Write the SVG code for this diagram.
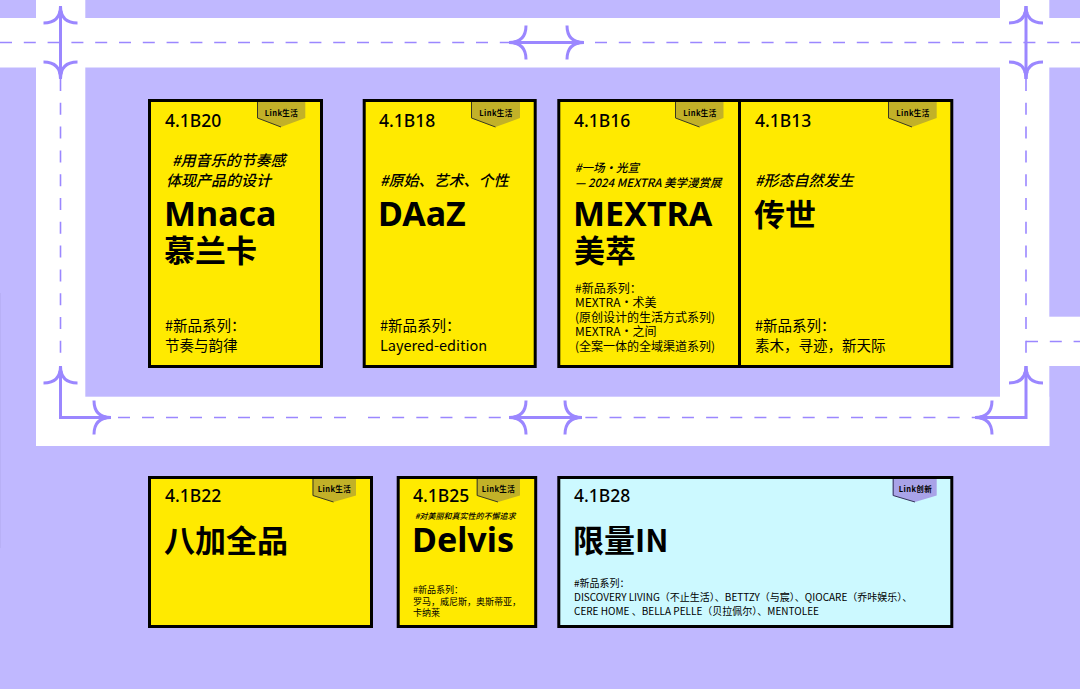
<svg xmlns="http://www.w3.org/2000/svg" width="1080" height="689" viewBox="0 0 1080 689">
<style>
text{font-family:"Noto Sans CJK SC","Noto Sans",sans-serif;fill:#000}
.band{fill:#fff}
.card{fill:#FFEA00;stroke:#000;stroke-width:3}
.cyan{fill:#CCF9FF}
.badge{fill:#C2B128;stroke:none}
.badge2{fill:#A9A3E8;stroke:none}
.edge{fill:none;stroke:#3a3a20;stroke-width:1}
.code{font-size:17.5px;font-weight:500;font-family:"Noto Sans","Noto Sans CJK SC",sans-serif}
.big{font-size:31px;font-weight:700}
.bigl{font-size:34px;font-weight:700;font-family:"Noto Sans","Noto Sans CJK SC",sans-serif}
.tag{font-size:15px;font-weight:500;font-style:italic}
.b{font-size:14.5px}
.s{font-size:12px}
.l{font-size:7.5px;font-weight:700;text-anchor:middle;letter-spacing:.4px}
.dash{fill:none;stroke:#9B87FF;stroke-width:1.6;stroke-dasharray:12 11.8}
.arr{fill:none;stroke:#9B87FF;stroke-width:3;marker-start:url(#h);marker-end:url(#h)}
</style>
<defs>
<marker id="h" markerUnits="userSpaceOnUse" markerWidth="40" markerHeight="40" refX="20" refY="20" viewBox="0 0 40 40" orient="auto-start-reverse" overflow="visible">
<path d="M20 20Q3 20 3 3M20 20Q3 20 3 37" fill="none" stroke="#9B87FF" stroke-width="3"/>
<path d="M20 20L13 17.5V22.5Z" fill="#9B87FF"/>
</marker>
</defs>
<rect width="1080" height="689" fill="#C0B8FF"/>
<rect x="0" y="293" width="1" height="255" fill="#B8B0F6"/>
<g id="bands">
<rect class="band" x="0" y="18" width="1080" height="49.5"/>
<rect class="band" x="36" y="0" width="49.3" height="446"/>
<rect class="band" x="1000" y="0" width="49.3" height="446"/>
<rect class="band" x="36" y="396.7" width="1013.3" height="49.3"/>
<rect class="band" x="1049" y="316.7" width="31" height="49.3"/>
</g>
<g id="connectors">
<path class="dash" d="M0 42.5H1080"/>
<path class="dash" d="M60.5 79V356"/>
<path class="dash" d="M1026 79V356"/>
<path class="dash" d="M1026 341.5H1080"/>
<path class="dash" style="stroke-dasharray:12 12" d="M118 417.5H347"/>
<path class="dash" style="stroke-dasharray:12 12.15" d="M368 417.5H975"/>
<path class="arr" d="M60.5 6V79"/>
<path class="arr" d="M1026 6V79"/>
<path class="arr" d="M509 42.5H584"/>
<path class="arr" d="M509 417.5H582"/>
<path class="arr" d="M60.5 366V417.5H111"/>
<path class="arr" d="M1026 366V417.5H975"/>
</g>
<g id="card-4-1B20">
<rect class="card" x="149.5" y="100.5" width="172" height="266"/>
<path class="badge" d="M257 102H305.300V118L281 127L257 118Z"/><path class="edge" d="M257.500 102V118L281 127"/>
<text class="l" x="281.500" y="116">Link生活</text>
<text class="code" x="165" y="127">4.1B20</text>
<text class="tag" x="172" y="166">#用音乐的节奏感</text>
<text class="tag" x="166" y="186">体现产品的设计</text>
<text class="bigl" x="164" y="226">Mnaca</text>
<text class="big" x="164" y="262">慕兰卡</text>
<text class="b" x="165" y="331">#新品系列：</text>
<text class="b" x="165" y="351">节奏与韵律</text>
</g>
<g id="card-4-1B18">
<rect class="card" x="364.200" y="100.500" width="171" height="266"/>
<path class="badge" d="M471 102H520V118L495.500 127L471 118Z"/><path class="edge" d="M471.500 102V118L495.500 127"/>
<text class="l" x="496" y="116">Link生活</text>
<text class="code" x="379" y="127">4.1B18</text>
<text class="tag" x="380" y="186">#原始、艺术、个性</text>
<text class="bigl" x="378" y="226">DAaZ</text>
<text class="b" x="380" y="331">#新品系列：</text>
<text class="b" x="380" y="351">Layered-edition</text>
</g>
<g id="card-4-1B16">
<rect class="card" x="558.800" y="100.500" width="180.700" height="266"/>
<path class="badge" d="M675 102H723.500V118L699.500 127L675 118Z"/><path class="edge" d="M675.500 102V118L699.500 127"/>
<text class="l" x="700" y="116">Link生活</text>
<text class="code" x="574" y="127">4.1B16</text>
<text x="575" y="172" style="font-size:11.500px;font-weight:500;font-style:italic">#一场·光宣</text>
<text x="575" y="187" style="font-size:11.500px;font-weight:500;font-style:italic">— 2024 MEXTRA 美学漫赏展</text>
<text class="bigl" x="573" y="226">MEXTRA</text>
<text class="big" x="574" y="262">美萃</text>
<text class="s" x="575" y="293">#新品系列：</text>
<text class="s" x="575" y="307">MEXTRA·术美</text>
<text class="s" x="575" y="321.500">(原创设计的生活方式系列)</text>
<text class="s" x="575" y="336">MEXTRA·之间</text>
<text class="s" x="575" y="351">(全案一体的全域渠道系列)</text>
</g>
<g id="card-4-1B13">
<rect class="card" x="739.500" y="100.500" width="212.300" height="266"/>
<path class="badge" d="M888 102H936.700V118L912 127L888 118Z"/><path class="edge" d="M888.500 102V118L912 127"/>
<text class="l" x="913" y="116">Link生活</text>
<text class="code" x="755" y="127">4.1B13</text>
<text class="tag" x="755" y="186">#形态自然发生</text>
<text class="big" x="754" y="226">传世</text>
<text class="b" x="755" y="331">#新品系列：</text>
<text class="b" x="755" y="351">素木，寻迹，新天际</text>
</g>
<g id="card-4-1B22">
<rect class="card" x="149.500" y="477.500" width="222" height="149"/>
<path class="badge" d="M312.500 479H356V495.500L333.500 502L312.500 495.500Z"/><path class="edge" d="M313 479V495.500L333.500 502"/>
<text class="l" x="334.500" y="492">Link生活</text>
<text class="code" x="165" y="502">4.1B22</text>
<text class="big" x="164" y="552">八加全品</text>
</g>
<g id="card-4-1B25">
<rect class="card" x="398.200" y="477.500" width="137.500" height="149"/>
<path class="badge" d="M476.700 479H520V495.500L498 502L476.700 495.500Z"/><path class="edge" d="M477.200 479V495.500L498 502"/>
<text class="l" x="498.500" y="492">Link生活</text>
<text class="code" x="413" y="502">4.1B25</text>
<text x="415" y="519" style="font-size:8px;font-weight:500;font-style:italic">#对美丽和真实性的不懈追求</text>
<text class="bigl" x="412" y="552">Delvis</text>
<text x="413" y="593" style="font-size:9px">#新品系列：</text>
<text x="413" y="605" style="font-size:9px">罗马，威尼斯，奥斯蒂亚，</text>
<text x="413" y="616" style="font-size:9px">卡纳莱</text>
</g>
<g id="card-4-1B28">
<rect class="card cyan" x="558.800" y="477.500" width="393" height="149"/>
<path class="badge2" d="M892.700 479H936.700V495.500L915 502L892.700 495.500Z"/><path class="edge" style="stroke:#33335a" d="M893.200 479V495.500L915 502"/>
<text class="l" x="915.500" y="492">Link创新</text>
<text class="code" x="574" y="502">4.1B28</text>
<text class="big" x="573" y="552">限量IN</text>
<text x="574" y="587" style="font-size:10px">#新品系列：</text>
<text x="574" y="601" style="font-size:10px">DISCOVERY LIVING（不止生活）、BETTZY（与宸）、QIOCARE（乔咔娱乐）、</text>
<text x="574" y="615" style="font-size:10px">CERE HOME 、BELLA PELLE（贝拉佩尔）、MENTOLEE</text>
</g>
</svg>
